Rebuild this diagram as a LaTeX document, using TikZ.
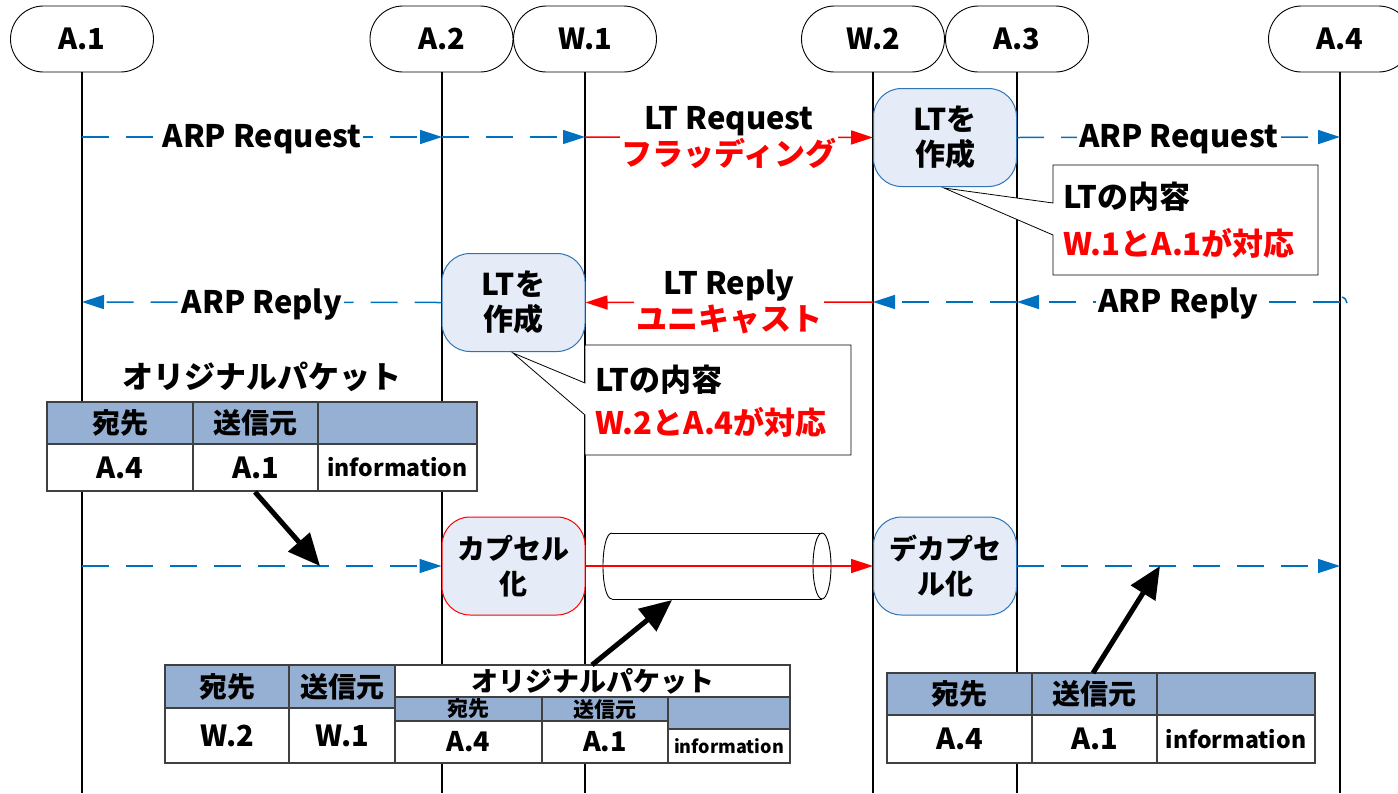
\documentclass[tikz,border=0pt]{standalone}
\usepackage{fontspec}
\setmainfont{Noto Sans CJK JP}
\usetikzlibrary{arrows.meta}
\newcommand\fsz[2]{\fontsize{#1pt}{#2pt}\selectfont}
\definecolor{arpblue}{RGB}{0,112,192}
\definecolor{boxfill}{RGB}{230,236,247}
\definecolor{boxblue}{RGB}{46,117,182}
\definecolor{hdrfill}{RGB}{149,176,210}
\definecolor{tline}{RGB}{64,64,64}
\begin{document}
\begin{tikzpicture}[x=1pt,y=-1pt,
  pill/.style={draw=black, line width=0.9pt, rounded corners=33pt, minimum width=143pt, minimum height=66pt, inner sep=0pt, fill=white, font=\bfseries\fsz{29}{32}},
  lifeline/.style={draw=black, line width=1.2pt},
  bluedash/.style={draw=arpblue, line width=1.5pt, dash pattern=on 27pt off 17pt},
  bluetip/.style={-{Triangle[length=22pt,width=14pt]}},
  redline/.style={draw=red, line width=1.5pt, -{Triangle[length=22pt,width=14pt]}},
  lbl/.style={fill=white, inner sep=2pt, font=\bfseries\fsz{31}{36}, align=center},
  procbox/.style={draw=boxblue, line width=1pt, fill=boxfill, rounded corners=28pt, minimum width=143pt, minimum height=98pt, inner sep=0pt, align=center, font=\bfseries\fsz{30}{35}},
  callout/.style={draw=black, line width=0.8pt, fill=white},
  ctext/.style={anchor=west, inner sep=0pt, font=\bfseries\fsz{31}{34}},
  blkarrow/.style={draw=black, line width=5pt, -{Triangle[length=32pt,width=28pt]}},
  cellbase/.style={draw=tline, line width=1.3pt, anchor=north west, inner sep=0pt, outer sep=0pt, font=\bfseries\fsz{28}{30}},
  hcell/.style={cellbase, fill=hdrfill},
  dcell/.style={cellbase, fill=white},
  cyl/.style={draw=black, line width=0.9pt}
]
\useasboundingbox (0,0) rectangle (1398,793);
\fill[white] (0,0) rectangle (1398,793);

% headers
\node[pill] (A1) at (82,39) {A.1};
\node[pill] (A2) at (441.5,39) {A.2};
\node[pill] (W1) at (585,39) {W.1};
\node[pill] (W2) at (873,39) {W.2};
\node[pill] (A3) at (1017,39) {A.3};
\node[pill] (A4) at (1340,39) {A.4};

% lifeline ends
\coordinate (A1e) at (82,793);
\coordinate (A2e) at (442,793);
\coordinate (W1e) at (585,793);
\coordinate (W2e) at (873,793);
\coordinate (A3e) at (1017,793);
\coordinate (A4e) at (1340,793);
\draw[lifeline] (A1.south) -- (A1e);
\draw[lifeline] (442,72) -- (A2e);
\draw[lifeline] (W1.south) -- (W1e);
\draw[lifeline] (W2.south) -- (W2e);
\draw[lifeline] (A3.south) -- (A3e);
\draw[lifeline] (A4.south) -- (A4e);

% row coordinates
\coordinate (a1r1) at (82,137);
\coordinate (a2r1) at (442,137);
\coordinate (w1r1) at (585,137);
\coordinate (a4r1) at (1340,137);
\coordinate (a4r2) at (1340,302);
\coordinate (a3r2) at (1017,302);
\coordinate (w2r2) at (873,302);
\coordinate (a1r2) at (82,302);
\coordinate (a1r3) at (82,566);
\coordinate (a4r3) at (1340,566);

% process boxes
\node[procbox] (lt1) at (945,137.5) {LTを\\作成};
\node[procbox] (lt2) at (513.5,302.5) {LTを\\作成};
\node[procbox, draw=red, font=\bfseries\fsz{28}{35}] (cap) at (513.5,566) {カプセル\\化};
\node[procbox, font=\bfseries\fsz{28}{35}] (decap) at (945,566) {デカプセ\\ル化};

% row 1
\draw[bluedash, bluetip] (a1r1) -- node[lbl, yshift=-2pt] (lb1) {ARP Request} (a2r1);
\draw[bluedash, bluetip] (a2r1) -- (w1r1);
\draw[redline] (w1r1) -- node[lbl] (lb2) {LT Request\\\textcolor{red}{フラッディング}} (lt1.west);
\draw[bluedash, bluetip] (lt1.east) -- node[lbl, yshift=-2pt] (lb3) {ARP Request} (a4r1);

% row 2
\draw[bluedash, bluetip] (a4r2) -- node[lbl, yshift=-2pt] (lb4) {ARP Reply} (a3r2);
\draw[bluedash, bluetip] (a3r2) -- (w2r2);
\draw[redline] (w2r2) -- node[lbl] (lb5) {LT Reply\\\textcolor{red}{ユニキャスト}} (lt2.east);
\draw[bluedash, bluetip] (lt2.west) -- node[lbl, yshift=-2pt] (lb6) {ARP Reply} (a1r2);
\draw[draw=arpblue, line width=1.5pt] (1342,297) .. controls (1345,298) .. (1347,303);

% callouts
\draw[callout] (1053,165) -- (1318,165) -- (1318,275) -- (1053,275) -- (1053,235) -- (944,188) -- (1053,203) -- cycle;
\node[ctext] (c1a) at (1063,197) {LTの内容};
\node[ctext, text=red] (c1b) at (1063,243) {W.1とA.1が対応};
\draw[callout] (585,345) -- (851,345) -- (851,455) -- (585,455) -- (585,415) -- (513,353) -- (585,383) -- cycle;
\node[ctext] (c2a) at (595,380) {LTの内容};
\node[ctext, text=red] (c2b) at (595,422) {W.2とA.4が対応};

% row 3
\draw[bluedash, bluetip] (a1r3) -- (cap.west);
\fill[white] (612,533) -- (822,533) -- (822,599) -- (612,599) .. controls (600,599) and (600,533) .. (612,533);
\draw[cyl] (612,533) -- (822,533);
\draw[cyl] (612,599) -- (822,599);
\draw[cyl] (612,533) .. controls (600,533) and (600,599) .. (612,599);
\draw[cyl] (822,566) ellipse [x radius=9, y radius=33];
\draw[redline] (cap.east) -- (decap.west);
\draw[bluedash, bluetip] (decap.east) -- (a4r3);

% table 1
\node[font=\bfseries\fsz{31}{34}] (t1title) at (262,377) {オリジナルパケット};
\node[hcell, minimum width=146pt, minimum height=42pt] (t1h1) at (47,402) {宛先};
\node[hcell, minimum width=125pt, minimum height=42pt] (t1h2) at (193,402) {送信元};
\node[hcell, minimum width=159pt, minimum height=42pt] (t1h3) at (318,402) {};
\node[dcell, minimum width=146pt, minimum height=47pt, font=\bfseries\fsz{29}{30}] (t1d1) at (47,444) {A.4};
\node[dcell, minimum width=125pt, minimum height=47pt, font=\bfseries\fsz{29}{30}] (t1d2) at (193,444) {A.1};
\node[dcell, minimum width=159pt, minimum height=47pt, font=\bfseries\fsz{23}{26}] (t1d3) at (318,444) {information};

% table 2
\node[hcell, minimum width=124pt, minimum height=43pt, font=\bfseries\fsz{28}{30}] (t2h1) at (165,665) {宛先};
\node[hcell, minimum width=106pt, minimum height=43pt, font=\bfseries\fsz{28}{30}] (t2h2) at (289,665) {送信元};
\node[dcell, minimum width=124pt, minimum height=55pt, font=\bfseries\fsz{29}{30}] (t2d1) at (165,708) {W.2};
\node[dcell, minimum width=106pt, minimum height=55pt, font=\bfseries\fsz{29}{30}] (t2d2) at (289,708) {W.1};
\node[dcell, minimum width=395pt, minimum height=32pt, font=\bfseries\fsz{27}{30}] (t2t) at (395,665) {オリジナルパケット};
\node[hcell, minimum width=147pt, minimum height=24pt, font=\bfseries\fsz{21}{22}] (t2ih1) at (395,697) {宛先};
\node[hcell, minimum width=126pt, minimum height=24pt, font=\bfseries\fsz{21}{22}] (t2ih2) at (542,697) {送信元};
\node[hcell, minimum width=122pt, minimum height=32pt] (t2ih3) at (668,697) {};
\node[dcell, minimum width=147pt, minimum height=42pt, font=\bfseries\fsz{27}{28}] (t2id1) at (395,721) {A.4};
\node[dcell, minimum width=126pt, minimum height=42pt, font=\bfseries\fsz{27}{28}] (t2id2) at (542,721) {A.1};
\node[dcell, minimum width=122pt, minimum height=34pt, font=\bfseries\fsz{18}{20}] (t2id3) at (668,729) {information};

% table 3
\node[hcell, minimum width=145pt, minimum height=42pt] (t3h1) at (887,673) {宛先};
\node[hcell, minimum width=125pt, minimum height=42pt] (t3h2) at (1032,673) {送信元};
\node[hcell, minimum width=158pt, minimum height=42pt] (t3h3) at (1157,673) {};
\node[dcell, minimum width=145pt, minimum height=48pt, font=\bfseries\fsz{29}{30}] (t3d1) at (887,715) {A.4};
\node[dcell, minimum width=125pt, minimum height=48pt, font=\bfseries\fsz{29}{30}] (t3d2) at (1032,715) {A.1};
\node[dcell, minimum width=158pt, minimum height=48pt, font=\bfseries\fsz{23}{26}] (t3d3) at (1157,715) {information};

% black arrows
\coordinate (ba1s) at (255,492);
\coordinate (ba1e) at (320,566);
\coordinate (ba2s) at (592,665);
\coordinate (ba2e) at (672,600);
\coordinate (ba3s) at (1093,673);
\coordinate (ba3e) at (1160,566);
\draw[blkarrow] (ba1s) -- (ba1e);
\draw[blkarrow] (ba2s) -- (ba2e);
\draw[blkarrow] (ba3s) -- (ba3e);
\end{tikzpicture}
\end{document}
